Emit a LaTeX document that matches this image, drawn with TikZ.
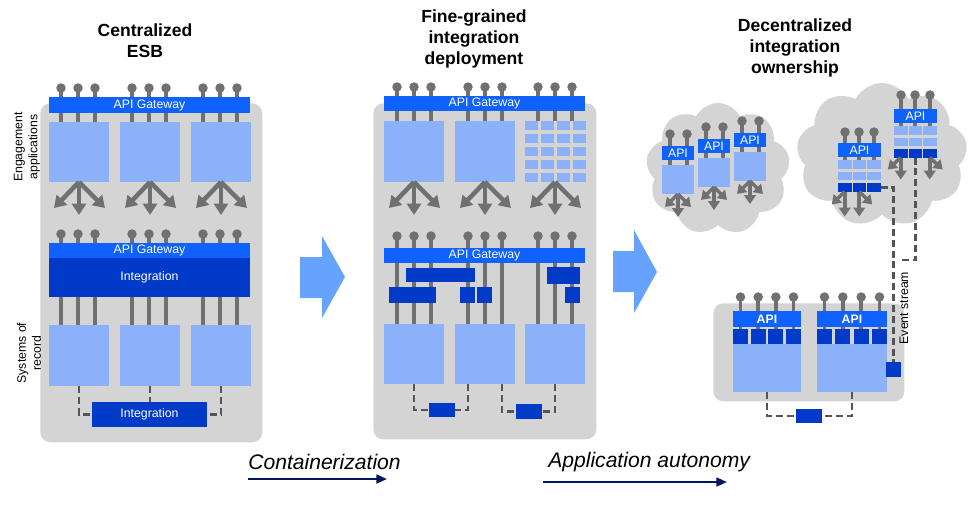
\documentclass[tikz,border=0pt]{standalone}
\usepackage{fontspec}
\setmainfont{Liberation Sans}
\usetikzlibrary{arrows.meta,shapes.symbols}

\definecolor{panelgray}{RGB}{212,212,212}
\definecolor{applight}{RGB}{140,177,251}
\definecolor{apiblue}{RGB}{15,98,254}
\definecolor{intblue}{RGB}{0,58,200}
\definecolor{pingray}{RGB}{112,112,112}
\definecolor{dashgray}{RGB}{85,85,85}
\definecolor{bigarrow}{RGB}{102,163,255}
\definecolor{navy}{RGB}{0,22,96}

\begin{document}
\begin{tikzpicture}[x=0.02cm,y=-0.02cm,
  panel/.style={fill=panelgray, rounded corners=0.2cm, anchor=north west, inner sep=0},
  blk/.style={anchor=north west, inner sep=0, outer sep=0},
  app/.style={blk, fill=applight},
  gate/.style={blk, fill=apiblue, text=white, font=\fontsize{7}{8}\selectfont},
  integ/.style={blk, fill=intblue, text=white, font=\fontsize{7}{8}\selectfont},
  knob/.style={circle, fill=pingray, minimum size=0.19cm, inner sep=0},
  stem/.style={draw=pingray, line width=2pt},
  fan/.style={draw=pingray, line width=2.6pt, -{Triangle[width=8pt,length=6.5pt]}},
  smallfan/.style={draw=pingray, line width=2pt, -{Triangle[width=6.5pt,length=5pt]}},
  dashline/.style={draw=dashgray, line width=1.6pt, dash pattern=on 4pt off 2.2pt},
  title/.style={font=\fontsize{10}{12}\selectfont\bfseries, align=center},
  side/.style={font=\fontsize{7}{8.5}\selectfont, align=center, rotate=90},
  stage/.style={font=\fontsize{12}{14}\selectfont\itshape, anchor=west, inner sep=0},
  stagearrow/.style={draw=navy, line width=1.2pt, -{Triangle[width=5pt,length=6pt]}},
  puffy/.style={cloud, cloud puffs=9, cloud puff arc=125, cloud ignores aspect, fill=panelgray, inner sep=0}
]
\useasboundingbox (0,0) rectangle (971,515);

% centralized ESB
\node[title] (t1) at (145,41) {Centralized\\ESB};
\node[panel, minimum width=4.44cm, minimum height=6.78cm] (p1) at (40,103) {};
\node[side] (s1) at (27,147) {Engagement\\applications};
\node[side] (s2) at (29,353) {Systems of\\record};
\foreach \i/\x in {1/49,2/120,3/191} {
  \foreach \d in {12,29,46} {
    \draw[stem] (\x+\d,88) -- (\x+\d,122) node[knob,pos=0] (ka\i\d) {};
    \draw[stem] (\x+\d,234) -- (\x+\d,325) node[knob,pos=0] (kb\i\d) {};
  }
}
\node[gate, minimum width=4.02cm, minimum height=0.32cm] (g1) at (49,97) {API Gateway};
\foreach \i/\x in {1/49,2/120,3/191} {
  \node[app, minimum width=1.2cm, minimum height=1.2cm] (e\i) at (\x,122) {};
  \draw[fan] (e\i.south) -- ++(-25,26);
  \draw[fan] (e\i.south) -- ++(0,33);
  \draw[fan] (e\i.south) -- ++(26,26);
  \node[app, minimum width=1.2cm, minimum height=1.22cm] (r\i) at (\x,325) {};
}
\node[gate, minimum width=4.02cm, minimum height=0.3cm] (g2) at (49,243) {API Gateway};
\node[integ, minimum width=4.02cm, minimum height=0.78cm] (i1) at (49,258) {Integration};
\node[integ, minimum width=2.3cm, minimum height=0.5cm] (i2) at (92,402) {Integration};
\draw[dashline] (r1.south) |- (i2.west);
\draw[dashline] (r2.south) -- (r2.south |- i2.north);
\draw[dashline] (r3.south) |- (i2.east);

% fine-grained deployment
\node[title] (t2) at (474,39) {Fine-grained\\integration\\deployment};
\node[panel, minimum width=4.46cm, minimum height=6.72cm] (p2) at (373,103) {};
\foreach \i/\x in {1/384,2/455,3/525} {
  \foreach \d in {13,30,47} {
    \draw[stem] (\x+\d,87) -- (\x+\d,121) node[knob,pos=0] (kc\i\d) {};
    \draw[stem] (\x+\d,236) -- (\x+\d,324) node[knob,pos=0] (kd\i\d) {};
  }
}
\node[gate, minimum width=4.02cm, minimum height=0.3cm] (g3) at (384,96) {API Gateway};
\node[app, minimum width=1.2cm, minimum height=1.22cm] (m1) at (384,121) {};
\node[app, minimum width=1.2cm, minimum height=1.22cm] (m2) at (455,121) {};
\foreach \c in {0,...,3}
  \foreach \r in {0,...,4}
    \node[app, minimum width=0.26cm, minimum height=0.18cm] (q\c\r) at (525+16*\c,121+13*\r) {};
\coordinate (m3) at (555,182);
\foreach \m in {m1.south,m2.south,m3} {
  \draw[fan] (\m) -- ++(-25,26);
  \draw[fan] (\m) -- ++(0,33);
  \draw[fan] (\m) -- ++(26,26);
}
\node[gate, minimum width=4.02cm, minimum height=0.3cm] (g4) at (384,248) {API Gateway};
\node[integ, minimum width=1.38cm, minimum height=0.28cm] (ib1) at (406,268) {};
\node[integ, minimum width=0.94cm, minimum height=0.32cm] (ib2) at (389,287) {};
\node[integ, minimum width=0.3cm, minimum height=0.32cm] (ib3) at (460,287) {};
\node[integ, minimum width=0.3cm, minimum height=0.32cm] (ib4) at (477,287) {};
\node[integ, minimum width=0.66cm, minimum height=0.34cm] (ib5) at (547,267) {};
\node[integ, minimum width=0.3cm, minimum height=0.32cm] (ib6) at (565,287) {};
\foreach \i/\x in {1/384,2/455,3/525}
  \node[app, minimum width=1.2cm, minimum height=1.2cm] (n\i) at (\x,324) {};
\node[integ, minimum width=0.52cm, minimum height=0.28cm] (db1) at (429,403) {};
\node[integ, minimum width=0.52cm, minimum height=0.3cm] (db2) at (516,404) {};
\draw[dashline] (n1.south) |- (db1.west);
\draw[dashline] ([xshift=-0.34cm]n2.south) |- (db1.east);
\draw[dashline] ([xshift=0.34cm]n2.south) |- (db2.west);
\draw[dashline] (n3.south) |- (db2.east);

% big arrows
\fill[bigarrow] (300,257) -- (322,257) -- (322,236) -- (345,277) -- (322,318) -- (322,298) -- (300,298) -- cycle;
\fill[bigarrow] (613,251) -- (634,251) -- (634,230) -- (657,272) -- (634,313) -- (634,292) -- (613,292) -- cycle;

% stages
\node[stage] (c1) at (248,462) {Containerization};
\coordinate (c1a) at (248,479);
\coordinate (c1b) at (387,479);
\draw[stagearrow] (c1a) -- (c1b);
\node[stage] (c2) at (548,462) {Application autonomy};
\coordinate (c2a) at (543,482);
\coordinate (c2b) at (727,482);
\draw[stagearrow] (c2a) -- (c2b);

% decentralized ownership
\node[title] (t3) at (795,48) {Decentralized\\integration\\ownership};
\node[puffy, minimum width=2.88cm, minimum height=2.64cm] (cl1) at (718,169) {};
\node[puffy, minimum width=3.42cm, minimum height=2.88cm] (cl2) at (882,155) {};
\foreach \n/\x/\k in {a/662/134,b/698/127,c/734/121} {
  \draw[stem] (\x+8,\k) -- (\x+8,\k+31) node[knob,pos=0] (k\n1) {};
  \draw[stem] (\x+25,\k) -- (\x+25,\k+31) node[knob,pos=0] (k\n2) {};
  \node[gate, minimum width=0.64cm, minimum height=0.28cm] (api\n) at (\x,\k+12) {API};
  \node[app, minimum width=0.64cm, minimum height=0.58cm] (box\n) at (\x,\k+31) {};
  \draw[smallfan] (box\n.south) -- ++(-13,13);
  \draw[smallfan] (box\n.south) -- ++(0,23);
  \draw[smallfan] (box\n.south) -- ++(13,13);
}
\foreach \n/\x/\k/\t in {d/838/132/143,e/894/95/109} {
  \foreach \d in {7,21,36}
    \draw[stem] (\x+\d,\k) -- (\x+\d,\t+17) node[knob,pos=0] (k\n\d) {};
  \node[gate, minimum width=0.86cm, minimum height=0.28cm] (api\n) at (\x,\t) {API};
  \foreach \c in {0,1,2} {
    \node[app, minimum width=0.27cm, minimum height=0.17cm] (\n\c0) at (\x+14.5*\c,\t+17) {};
    \node[app, minimum width=0.27cm, minimum height=0.17cm] (\n\c1) at (\x+14.5*\c,\t+28.5) {};
    \node[integ, minimum width=0.27cm, minimum height=0.17cm] (\n\c2) at (\x+14.5*\c,\t+40) {};
  }
}
\draw[smallfan] (d02.south) -- ++(-13,13);
\draw[smallfan] (d02.south) -- ++(0,25);
\draw[smallfan] (d12.south) -- ++(0,25);
\draw[smallfan] (d12.south) -- ++(13,13);
\draw[smallfan] (e02.south) -- ++(-13,12);
\draw[smallfan] (e02.south) -- ++(0,22);
\draw[smallfan] (e22.south) -- ++(0,22);
\draw[smallfan] (e22.south) -- ++(13,12);

\node[panel, minimum width=3.82cm, minimum height=1.96cm] (p3) at (713,303) {};
\foreach \n/\x/\w/\s in {f/733/1.36cm/17.67,g/817/1.4cm/18.33} {
  \foreach \c in {0,...,3}
    \draw[stem] (\x+\s*\c+7.5,297) -- (\x+\s*\c+7.5,329) node[knob,pos=0] (k\n\c) {};
  \node[gate, font=\fontsize{7}{8}\selectfont\bfseries, minimum width=\w, minimum height=0.32cm] (api\n) at (\x,311) {API};
  \foreach \c in {0,...,3}
    \node[integ, minimum size=0.3cm] (\n\c) at (\x+\s*\c,329) {};
  \node[app, minimum width=\w, minimum height=0.96cm] (box\n) at (\x,344) {};
}
\node[integ, minimum size=0.3cm] (ev) at (886,362) {};
\node[integ, minimum width=0.52cm, minimum height=0.28cm] (db3) at (796,409) {};
\draw[dashline] (boxf.south) |- (db3.west);
\draw[dashline] (boxg.south) |- (db3.east);
\draw[dashline] (d22.east) -| (ev.north);
\coordinate (esend) at (898,260);
\draw[dashline] (e12.south) |- (esend);
\node[side] (evl) at (904,308) {Event stream};
\end{tikzpicture}
\end{document}
